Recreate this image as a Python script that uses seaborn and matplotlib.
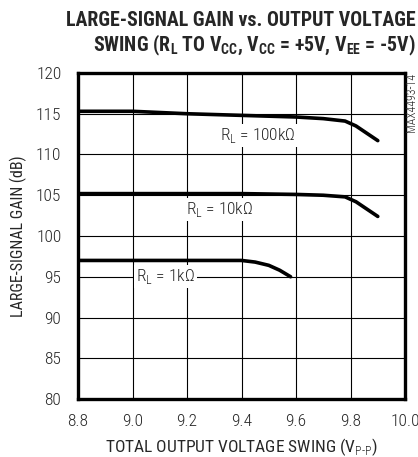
import numpy as np
import pandas as pd
import matplotlib
matplotlib.use("Agg")
import matplotlib.pyplot as plt
import seaborn as sns

# data
swing_100k = [8.8, 9.0, 9.2, 9.4, 9.6, 9.7, 9.78, 9.82, 9.86, 9.90]
gain_100k = [115.3, 115.3, 115.0, 114.8, 114.6, 114.4, 114.1, 113.5, 112.6, 111.7]
swing_10k = [8.8, 9.0, 9.2, 9.4, 9.6, 9.7, 9.78, 9.82, 9.86, 9.90]
gain_10k = [105.2, 105.2, 105.2, 105.2, 105.1, 105.0, 104.8, 104.2, 103.3, 102.4]
swing_1k = [8.8, 9.0, 9.2, 9.4, 9.45, 9.5, 9.54, 9.58]
gain_1k = [97.0, 97.0, 97.0, 97.0, 96.8, 96.4, 95.8, 95.0]

xticks = [8.8, 9.0, 9.2, 9.4, 9.6, 9.8, 10.0]
yticks = [80, 85, 90, 95, 100, 105, 110, 115, 120]

df = pd.concat([
    pd.DataFrame({"swing": swing_100k, "gain": gain_100k, "RL": "100k"}),
    pd.DataFrame({"swing": swing_10k, "gain": gain_10k, "RL": "10k"}),
    pd.DataFrame({"swing": swing_1k, "gain": gain_1k, "RL": "1k"}),
])

sns.set_style("white")
body = ["Roboto Condensed", "DejaVu Sans"]
plt.rcParams["font.family"] = body
plt.rcParams["font.weight"] = "light"
plt.rcParams["mathtext.fontset"] = "custom"
plt.rcParams["mathtext.rm"] = "Roboto Condensed:light"
plt.rcParams["mathtext.bf"] = "Roboto Condensed:bold"

fig = plt.figure(figsize=(4.18, 4.57), dpi=100)
ax = fig.add_axes([0.1866, 0.1269, 0.7824, 0.7134])

sns.lineplot(data=df, x="swing", y="gain", units="RL", estimator=None,
             color="black", lw=2.6, ax=ax, legend=False, sort=False)

ax.set_xlim(8.8, 10.0)
ax.set_ylim(80, 120)
ax.set_xticks(xticks)
ax.set_xticklabels([f"{t:.1f}" for t in xticks], fontsize=12.5)
ax.set_yticks(yticks)
ax.set_yticklabels([str(t) for t in yticks], fontsize=12.5)
ax.grid(True, color="black", lw=0.8)
ax.set_axisbelow(True)
for s in ax.spines.values():
    s.set_linewidth(2.4)
    s.set_color("black")
ax.tick_params(axis="y", length=0, pad=12)
ax.tick_params(axis="x", length=0, pad=11)

ax.set_xlabel("TOTAL OUTPUT VOLTAGE SWING (V$_{\\mathregular{\\text{P-P}}}$)", fontsize=12.5, labelpad=5)
ax.set_ylabel("LARGE-SIGNAL GAIN (dB)", fontsize=11.5, labelpad=6)

box = dict(facecolor="white", edgecolor="none", pad=1.5)
ax.text(9.46, 112.3, "R$_{\\mathregular{L}}$ = 100kΩ", ha="center", va="center", fontsize=12.5, bbox=box)
ax.text(9.32, 103.3, "R$_{\\mathregular{L}}$ = 10kΩ", ha="center", va="center", fontsize=12.5, bbox=box)
ax.text(9.12, 95.0, "R$_{\\mathregular{L}}$ = 1kΩ", ha="center", va="center", fontsize=12.5, bbox=box)

fig.text(0.984, 0.84, "MAX4493-14", rotation=90, ha="center", va="top", fontsize=8.5)

fig.text(0.995, 0.955, "LARGE-SIGNAL GAIN vs. OUTPUT VOLTAGE", ha="right", va="center",
         fontsize=14.3, fontweight="bold")
fig.text(0.995, 0.9, "SWING (R$_{\\mathbf{L}}$ TO V$_{\\mathbf{CC}}$, V$_{\\mathbf{CC}}$ = +5V, V$_{\\mathbf{EE}}$ = -5V)",
         ha="right", va="center", fontsize=14.3, fontweight="bold")

fig.savefig("out.png", dpi=100)
